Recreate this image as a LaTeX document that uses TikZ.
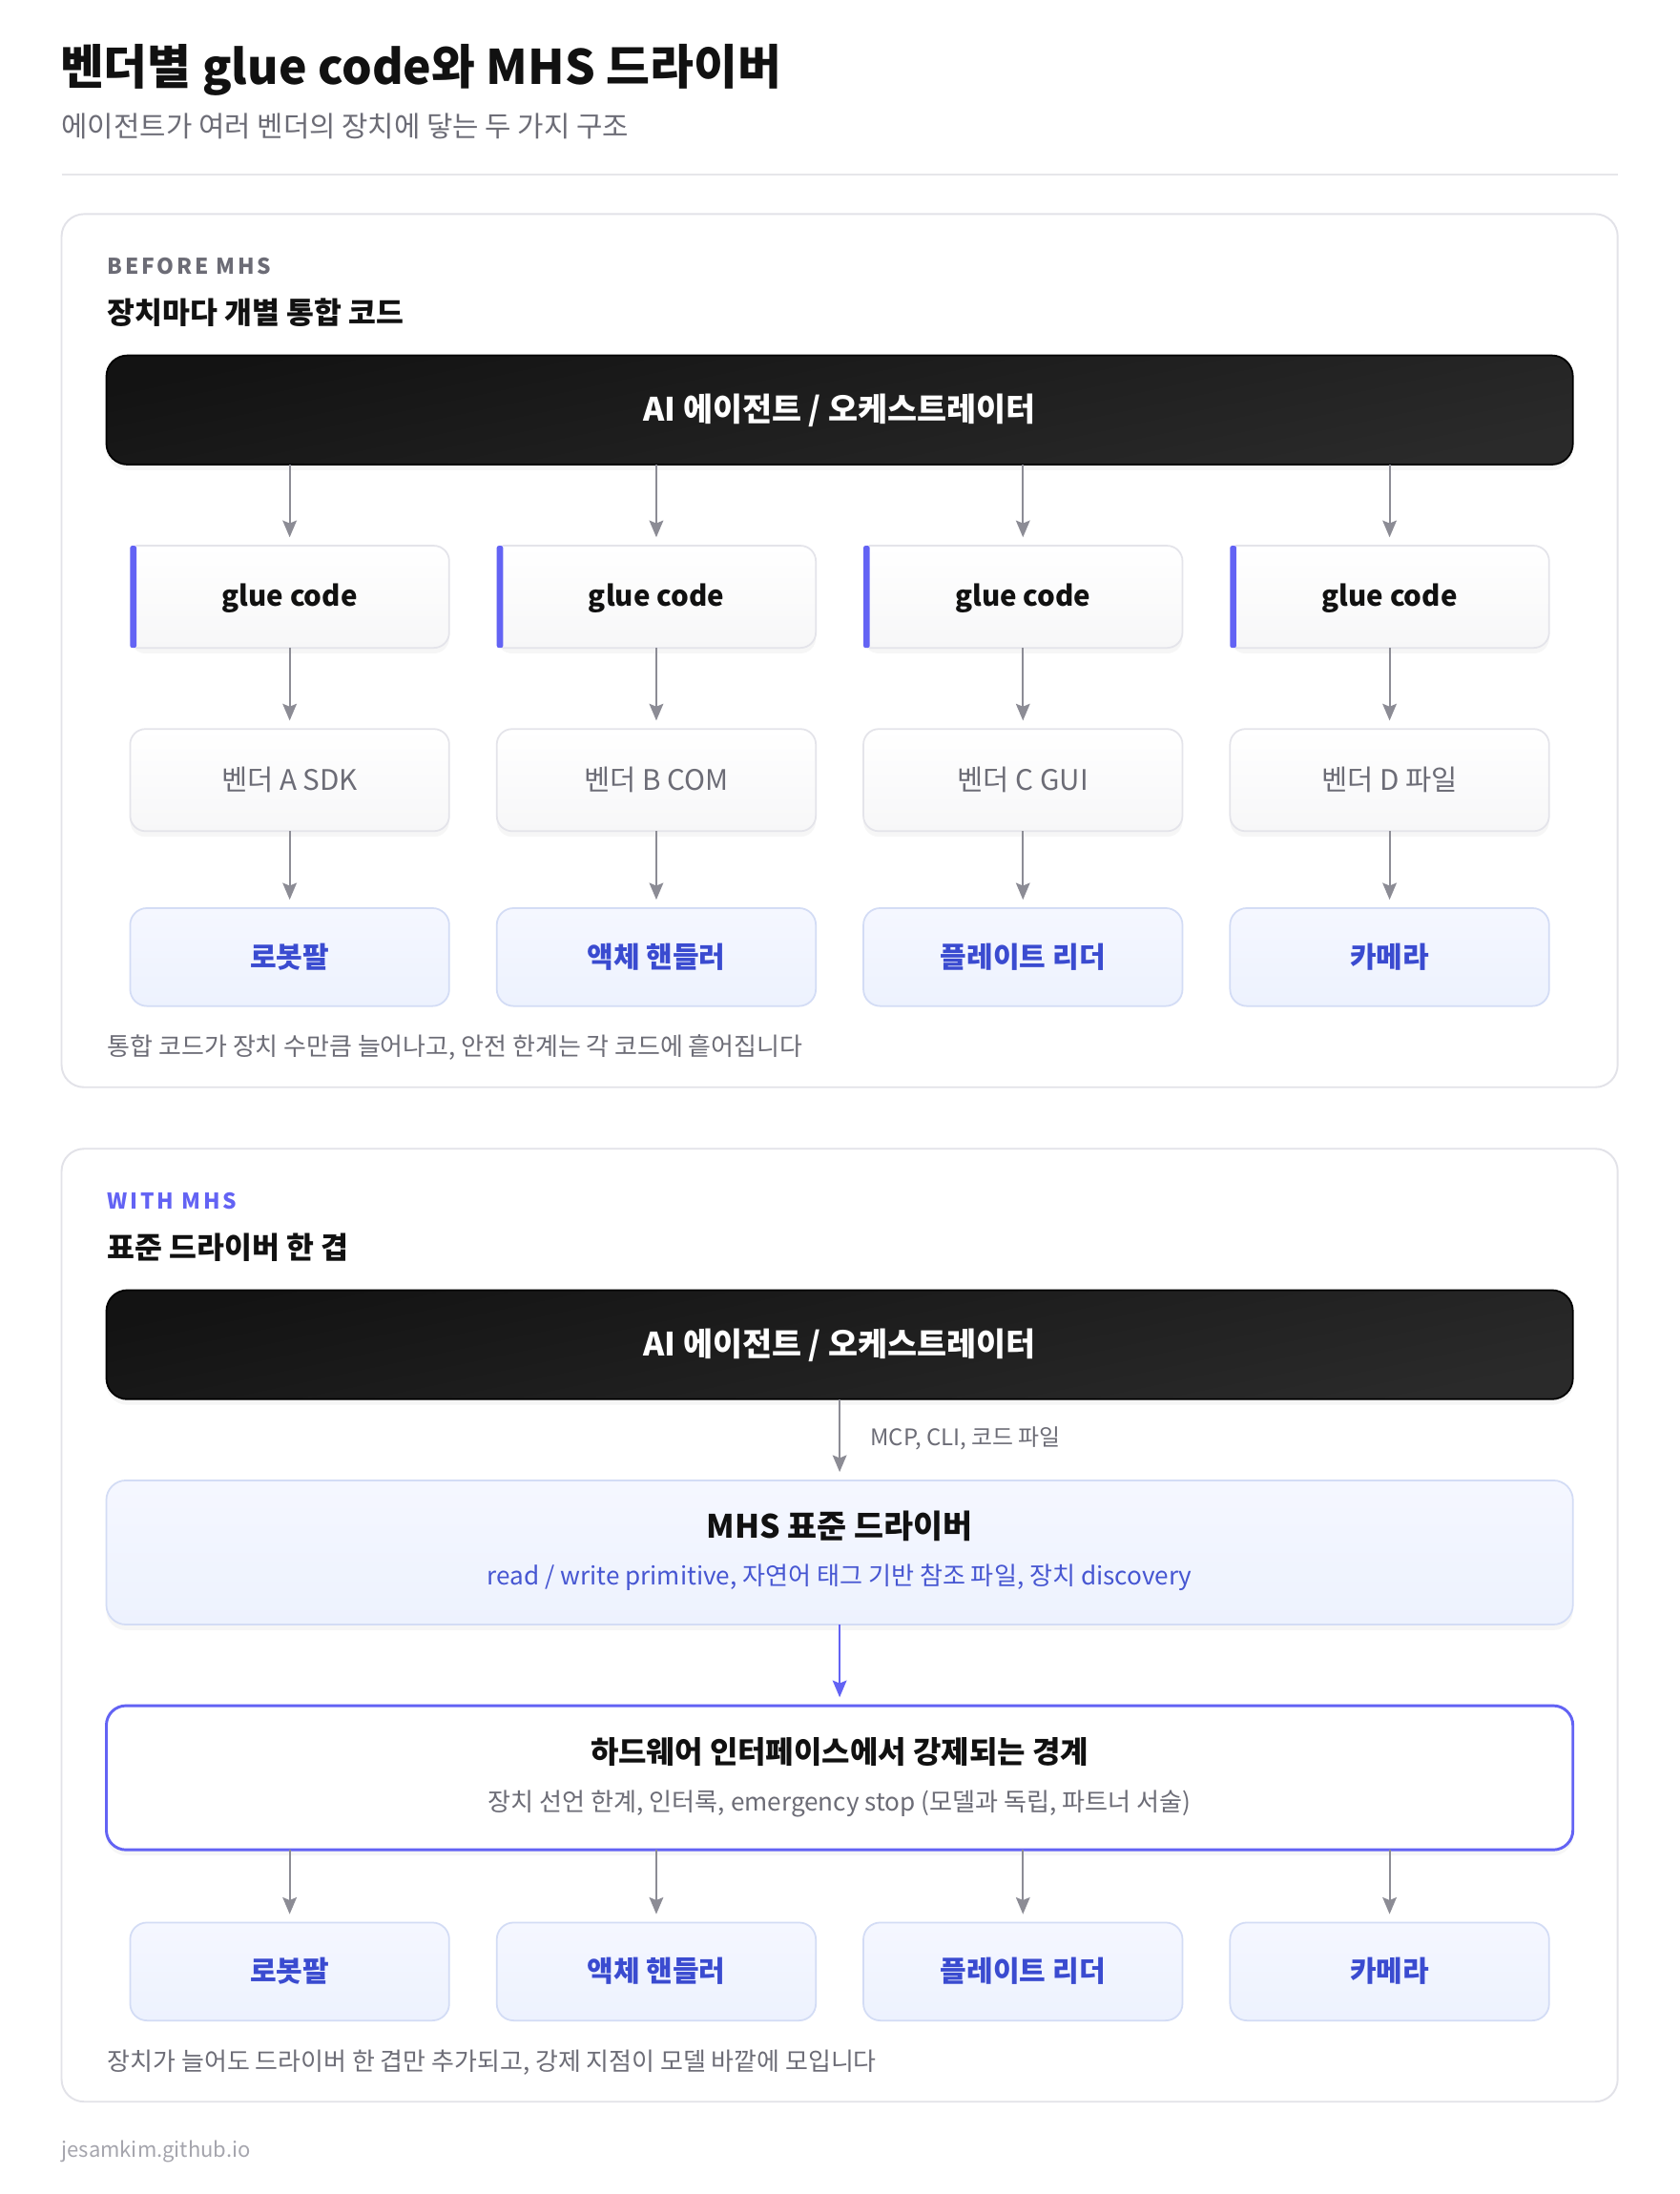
\documentclass[tikz,border=0pt]{standalone}
\usepackage{fontspec}
\setmainfont{Noto Sans CJK KR}
\usetikzlibrary{arrows.meta,shadows}
\definecolor{cTitle}{HTML}{111111}
\definecolor{cSub}{HTML}{6C6C76}
\definecolor{cRule}{HTML}{E6E6EA}
\definecolor{cPanel}{HTML}{E2E2E8}
\definecolor{cAccent}{HTML}{6363F4}
\definecolor{cBlue}{HTML}{3A4BD0}
\definecolor{cBlueSub}{HTML}{4656D2}
\definecolor{cDevTop}{HTML}{F5F7FF}
\definecolor{cDevBot}{HTML}{EDF2FE}
\definecolor{cDevLine}{HTML}{D3DCF5}
\definecolor{cBoxLine}{HTML}{E4E4EA}
\definecolor{cBoxBot}{HTML}{F7F7F8}
\definecolor{cArrow}{HTML}{8C8C95}
\definecolor{cFoot}{HTML}{A5A5AD}
\definecolor{cDarkA}{HTML}{131313}
\definecolor{cDarkB}{HTML}{2A2A2A}
\newcommand\fsz[1]{\fontsize{#1}{#1}\selectfont}
\tikzset{
  panel/.style={draw=cPanel, line width=1.3pt, fill=white, rounded corners=16pt},
  softshadow/.style={drop shadow={opacity=0.07, shadow xshift=0pt, shadow yshift=-4pt}},
  darkbox/.style={rounded corners=15pt, draw=black, line width=1.2pt,
    top color=cDarkA, bottom color=cDarkB, shading angle=12,
    minimum width=1048pt, minimum height=78pt, text=white,
    font=\fsz{23}\bfseries, text height=16pt, text depth=0pt, softshadow},
  gluebox/.style={rounded corners=11pt, top color=white, bottom color=cBoxBot,
    minimum width=228pt, minimum height=73pt, text=cTitle,
    font=\fsz{20.1}\bfseries, text height=13pt, text depth=0pt, softshadow},
  vendorbox/.style={rounded corners=11pt, draw=cBoxLine, line width=1.2pt,
    top color=white, bottom color=cBoxBot,
    minimum width=228pt, minimum height=73pt, text=cSub,
    font=\fsz{20.2}, text height=14.6pt, text depth=0pt, softshadow},
  devbox/.style={rounded corners=12pt, draw=cDevLine, line width=1.2pt,
    top color=cDevTop, bottom color=cDevBot,
    minimum width=228pt, minimum height=70pt, text=cBlue,
    font=\fsz{20.5}\bfseries, text height=15pt, text depth=0pt},
  widebox/.style={rounded corners=14pt, minimum width=1048pt, minimum height=103pt},
  mhsbox/.style={widebox, draw=cDevLine, line width=1.2pt, top color=cDevTop,
    bottom color=cDevBot, softshadow},
  bndbox/.style={widebox, draw=cAccent, line width=2pt, fill=white, softshadow},
  arr/.style={draw=cArrow, line width=1.4pt,
    -{Stealth[length=12pt,width=10pt,inset=2pt]}, shorten >=6pt},
  parr/.style={arr, draw=cAccent},
  lefttext/.style={anchor=base west},
}
\begin{document}
\begin{tikzpicture}[x=1pt,y=-1pt, every node/.append style={inner sep=0pt, outer sep=0pt}]
\useasboundingbox[fill=white] (0,0) rectangle (1200,1568);

% header
\node[lefttext, text=cTitle, font=\fsz{34}\bfseries] (title) at (43,60) {벤더별 glue code와 MHS 드라이버};
\node[lefttext, text=cSub, font=\fsz{20.3}] (subtitle) at (44,97.5) {에이전트가 여러 벤더의 장치에 닿는 두 가지 구조};
\draw[cRule, line width=1.2pt] (44,125) -- (1156,125);

% ---------- panel 1 ----------
\draw[panel] (44,153) rectangle (1156,777);
\node[lefttext, text=cSub, font=\fsz{15.5}\bfseries\addfontfeatures{LetterSpace=12}] (tag1) at (77,196) {BEFORE MHS};
\node[lefttext, text=cTitle, font=\fsz{21.4}\bfseries] (head1) at (77,231.5) {장치마다 개별 통합 코드};

\node[darkbox] (agent1) at (600,293) {AI 에이전트 / 오케스트레이터};

\foreach \i/\x/\v/\d in {1/207/벤더 A SDK/로봇팔, 2/469/벤더 B COM/액체 핸들러, 3/731/벤더 C GUI/플레이트 리더, 4/993/벤더 D 파일/카메라}{
  \node[gluebox] (g\i) at (\x,426.5) {glue code};
  \draw[cBoxLine, line width=1.2pt] ([xshift=4pt]g\i.north west) [rounded corners=11pt] -- (g\i.north east) -- (g\i.south east) -- ([xshift=4pt]g\i.south west);
  \fill[cAccent, rounded corners=1.5pt] (g\i.north west) rectangle ([xshift=4.5pt]g\i.south west);
  \node[vendorbox] (v\i) at (\x,557.5) {\v};
  \node[devbox] (d\i) at (\x,684) {\d};
  \draw[arr] (agent1.south -| g\i) -- (g\i.north);
  \draw[arr] (g\i.south) -- (v\i.north);
  \draw[arr] (v\i.south) -- (d\i.north);
}

\node[lefttext, text=cSub, font=\fsz{17.7}] (cap1) at (77,754.5) {통합 코드가 장치 수만큼 늘어나고, 안전 한계는 각 코드에 흩어집니다};

% ---------- panel 2 ----------
\draw[panel] (44,821) rectangle (1156,1502);
\node[lefttext, text=cAccent, font=\fsz{15.5}\bfseries\addfontfeatures{LetterSpace=12}] (tag2) at (77,864) {WITH MHS};
\node[lefttext, text=cTitle, font=\fsz{21.4}\bfseries] (head2) at (77,899.5) {표준 드라이버 한 겹};

\node[darkbox] (agent2) at (600,961) {AI 에이전트 / 오케스트레이터};

\node[mhsbox] (mhs) at (600,1109.5) {};
\node[anchor=base, text=cTitle, font=\fsz{23}\bfseries] (mhsT) at (600,1099) {MHS 표준 드라이버};
\node[anchor=base, text=cBlueSub, font=\fsz{17.8}] (mhsS) at (600,1133) {read / write primitive, 자연어 태그 기반 참조 파일, 장치 discovery};

\draw[arr] (agent2.south) -- (mhs.north);
\node[lefttext, text=cSub, font=\fsz{16.3}] (mcp) at (622,1033) {MCP, CLI, 코드 파일};

\node[bndbox] (bnd) at (600,1270.5) {};
\node[anchor=base, text=cTitle, font=\fsz{21.8}\bfseries] (bndT) at (600,1260) {하드웨어 인터페이스에서 강제되는 경계};
\node[anchor=base, text=cSub, font=\fsz{17.8}] (bndS) at (600,1294.5) {장치 선언 한계, 인터록, emergency stop (모델과 독립, 파트너 서술)};

\draw[parr] (mhs.south) -- (bnd.north);

\foreach \i/\x/\d in {1/207/로봇팔, 2/469/액체 핸들러, 3/731/플레이트 리더, 4/993/카메라}{
  \node[devbox] (e\i) at (\x,1409) {\d};
  \draw[arr] (bnd.south -| e\i) -- (e\i.north);
}

\node[lefttext, text=cSub, font=\fsz{17.7}] (cap2) at (77,1479.5) {장치가 늘어도 드라이버 한 겹만 추가되고, 강제 지점이 모델 바깥에 모입니다};

\node[lefttext, text=cFoot, font=\fsz{15}] (foot) at (44,1542) {jesamkim.github.io};
\end{tikzpicture}
\end{document}
